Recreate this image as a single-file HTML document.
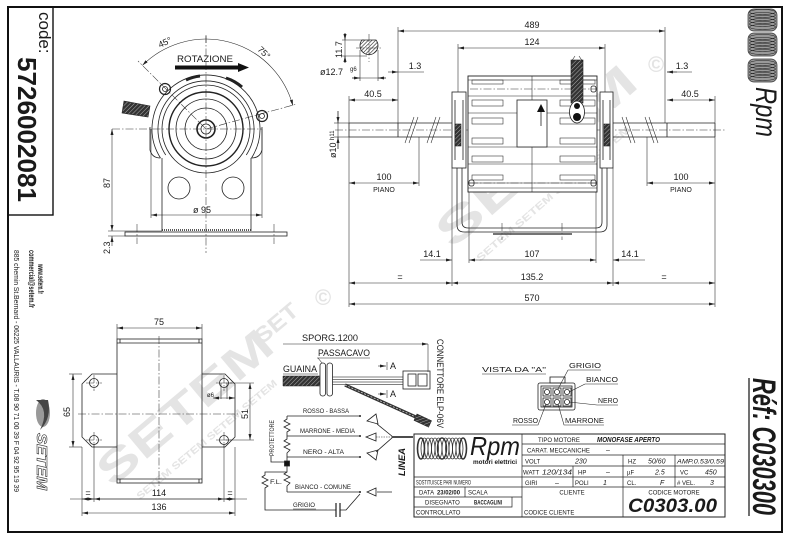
<!DOCTYPE html>
<html><head><meta charset="utf-8">
<style>
html,body{margin:0;padding:0;background:#fff}
svg{display:block}
.l{stroke:#222;stroke-width:.8;fill:none}
.t{stroke:#222;stroke-width:.55;fill:none}
.k{stroke:#1a1a1a;stroke-width:1.4;fill:none}
.c{stroke:#333;stroke-width:.55;fill:none;stroke-dasharray:8 2 1.5 2}
text{font-family:"Liberation Sans",Arial,sans-serif;fill:#1a1a1a}
.wm{fill:#e4e4e4;font-weight:bold}
.d{font-size:9px}
.s{font-size:6px}
.w{font-size:7.5px}
</style></head><body>
<svg xmlns="http://www.w3.org/2000/svg" width="790" height="541" viewBox="0 0 790 541">
<defs>
<marker id="a" viewBox="0 0 8 4" refX="8" refY="2" markerWidth="6" markerHeight="3" markerUnits="userSpaceOnUse" orient="auto-start-reverse"><path d="M0,0L8,2L0,4z" fill="#222"/></marker>
<pattern id="hp" width="2.6" height="2.6" patternUnits="userSpaceOnUse" patternTransform="rotate(45)"><rect width="2.6" height="2.6" fill="#fff"/><line x1="0" y1="0" x2="0" y2="2.6" stroke="#222" stroke-width="1.2"/></pattern>
<pattern id="hd" width="3" height="3" patternUnits="userSpaceOnUse" patternTransform="rotate(45)"><rect width="3" height="3" fill="#333"/><line x1="0" y1="0" x2="0" y2="3" stroke="#bbb" stroke-width=".9"/></pattern>
</defs>
<rect width="790" height="541" fill="#fff"/>

<!-- watermarks -->
<text class="wm" transform="translate(452,250) rotate(-41)" style="font-size:46px" textLength="250" lengthAdjust="spacingAndGlyphs">SETEM</text>
<text class="wm" transform="translate(480,262) rotate(-41)" style="font-size:10px" textLength="200" lengthAdjust="spacingAndGlyphs">SETEM SETEM SETEM SETEM</text>
<text class="wm" x="648" y="72" style="font-size:22px">©</text>
<text class="wm" transform="translate(112,488) rotate(-40)" style="font-size:44px" textLength="215" lengthAdjust="spacingAndGlyphs">SETEM</text>
<text class="wm" transform="translate(140,500) rotate(-40)" style="font-size:10px" textLength="180" lengthAdjust="spacingAndGlyphs">SETEM SETEM SETEM SETEM</text>
<text class="wm" x="315" y="305" style="font-size:22px">©</text>
<text class="wm" transform="translate(262,345) rotate(-40)" style="font-size:22px" textLength="50" lengthAdjust="spacingAndGlyphs">SET</text>

<!-- frame -->
<rect x="8" y="7" width="774" height="525" fill="none" stroke="#111" stroke-width="2"/>
<rect x="8" y="7" width="45" height="208" fill="none" stroke="#111" stroke-width="1.4"/>

<!-- left strip -->
<text transform="translate(39,12) rotate(90)" font-size="17">code:</text>
<text transform="translate(18,57) rotate(90)" font-size="26" font-weight="bold" textLength="145" lengthAdjust="spacingAndGlyphs">5726002081</text>
<text transform="translate(38,264) rotate(90)" font-size="8" font-weight="bold" textLength="30" lengthAdjust="spacingAndGlyphs">www.setem.fr</text>
<text transform="translate(29,250) rotate(90)" font-size="8" font-weight="bold" textLength="58" lengthAdjust="spacingAndGlyphs">commercial@setem.fr</text>
<text transform="translate(14,250) rotate(90)" font-size="7" textLength="242" lengthAdjust="spacingAndGlyphs">885 chemin St.Bernard - 06225 VALLAURIS - T.08 90 71 00 39 F 04 92 95 19 39</text>
<ellipse cx="43" cy="413" rx="7" ry="14" fill="#999"/>
<path d="M36,400 Q50,410 40,430 Q52,418 48,400z" fill="#444"/>
<text transform="translate(37,433) rotate(90)" style="fill:none;stroke:#333;stroke-width:.6;font-size:15px;font-weight:bold;font-style:italic" textLength="57" lengthAdjust="spacingAndGlyphs">SETEM</text>

<!-- right strip logo -->
<g stroke="#333" stroke-width=".7" fill="#999">
<rect x="748" y="9" width="29" height="22" rx="6"/>
<rect x="748" y="33" width="29" height="23" rx="6"/>
<rect x="748" y="59" width="29" height="23" rx="6"/>
</g>
<g stroke="#222" stroke-width=".6" fill="none">
<ellipse cx="762.5" cy="12" rx="13" ry="2.5"/><ellipse cx="762.5" cy="15" rx="13" ry="2.5"/><ellipse cx="762.5" cy="18" rx="13" ry="2.5"/><ellipse cx="762.5" cy="21" rx="13" ry="2.5"/><ellipse cx="762.5" cy="24" rx="13" ry="2.5"/><ellipse cx="762.5" cy="27" rx="13" ry="2.5"/>
<ellipse cx="762.5" cy="37" rx="13" ry="2.5"/><ellipse cx="762.5" cy="40" rx="13" ry="2.5"/><ellipse cx="762.5" cy="43" rx="13" ry="2.5"/><ellipse cx="762.5" cy="46" rx="13" ry="2.5"/><ellipse cx="762.5" cy="49" rx="13" ry="2.5"/><ellipse cx="762.5" cy="52" rx="13" ry="2.5"/>
<ellipse cx="762.5" cy="63" rx="13" ry="2.5"/><ellipse cx="762.5" cy="66" rx="13" ry="2.5"/><ellipse cx="762.5" cy="69" rx="13" ry="2.5"/><ellipse cx="762.5" cy="72" rx="13" ry="2.5"/><ellipse cx="762.5" cy="75" rx="13" ry="2.5"/><ellipse cx="762.5" cy="78" rx="13" ry="2.5"/>
</g>
<text transform="translate(756,87) rotate(90)" font-family="Liberation Serif,serif" font-style="italic" font-size="30" textLength="50" lengthAdjust="spacingAndGlyphs">Rpm</text>
<text transform="translate(753,378) rotate(90)" font-size="32" font-weight="bold" font-style="italic" textLength="137" lengthAdjust="spacingAndGlyphs">Réf: C030300</text>
<line x1="749" y1="378" x2="749" y2="516" stroke="#111" stroke-width="1.2"/>

<!-- ===== front view (top-left) ===== -->
<g class="c">
<line x1="206" y1="35" x2="206" y2="253"/>
<line x1="112" y1="129" x2="262" y2="129"/>
<line x1="206" y1="129" x2="138" y2="61"/>
<line x1="206" y1="129" x2="297" y2="104"/>
<line x1="137" y1="224" x2="137" y2="244"/>
<line x1="274" y1="224" x2="274" y2="244"/>
</g>
<g class="l">
<path d="M160.5,158 A54,54 0 1 1 251.5,158"/>
<path d="M165.7,155 A48,48 0 1 1 246.3,155"/>
<circle cx="206" cy="129" r="44"/>
<circle cx="206" cy="129" r="37" stroke-width="1.4"/>
<circle cx="206" cy="129" r="30"/>
<circle cx="206" cy="129" r="21"/>
<circle cx="206" cy="129" r="9" stroke-width="1.6"/>
<circle cx="206" cy="129" r="5"/>
<path d="M150,127 V150 Q152,158 160.5,158 M262,127 V150 Q260,158 251.5,158"/>
<path d="M162,158 V231 M251,158 V231"/>
<circle cx="179" cy="188" r="11"/>
<circle cx="233" cy="188" r="11"/>
<rect x="125" y="232" width="162" height="4"/>
<circle cx="165" cy="89" r="5.5" stroke-width="1.2"/><circle cx="165" cy="89" r="2.5"/>
<circle cx="262" cy="116" r="5.5" stroke-width="1.2"/><circle cx="262" cy="116" r="2.5"/>
</g>
<path d="M186,80 A44,44 0 0 1 200,76" stroke="#222" stroke-width="3" fill="none"/>
<path d="M226,78 A44,44 0 0 1 242,87" stroke="#222" stroke-width="3" fill="none"/>
<line x1="162" y1="230" x2="251" y2="230" stroke="#222" stroke-width="1.5" stroke-dasharray="1 1"/>
<polygon points="124,101 150,106 148,117 122,113" fill="url(#hd)" stroke="#222" stroke-width=".6"/>
<path class="t" d="M142.4,65.4 A90,90 0 0 1 292.9,105.7" marker-start="url(#a)" marker-end="url(#a)"/>
<line class="t" x1="206" y1="36" x2="206" y2="43"/>
<text transform="translate(160,48) rotate(-25)" class="d">45°</text>
<text transform="translate(257,50) rotate(45)" class="d">75°</text>
<text x="177" y="62" class="d" textLength="56" lengthAdjust="spacingAndGlyphs">ROTAZIONE</text>
<polygon points="175,65.5 238,65.5 238,63 249,67.5 238,72 238,69.5 175,69.5" fill="#111"/>
<g class="t" marker-start="url(#a)" marker-end="url(#a)">
<line x1="151" y1="215" x2="262" y2="215"/>
<line x1="112" y1="129" x2="112" y2="231"/>
</g>
<line class="t" x1="112" y1="246" x2="112" y2="236" marker-end="url(#a)"/>
<g class="t"><line x1="151" y1="129" x2="151" y2="218"/><line x1="262" y1="129" x2="262" y2="218"/><line x1="108" y1="231" x2="162" y2="231"/><line x1="108" y1="236" x2="125" y2="236"/></g>
<text x="193" y="213" class="d">ø 95</text>
<text transform="translate(110,188) rotate(-90)" class="d">87</text>
<text transform="translate(110,254) rotate(-90)" class="d">2.3</text>

<!-- ===== side view (top-right) ===== -->
<line class="c" x1="335" y1="130" x2="725" y2="130"/>
<g class="l">
<path d="M349,123 H452 M349,137 H452 M349,123 V137 M398,123 V137"/>
<path d="M613,123 H715 M613,137 H715 M715,123 V137 M667,123 V137"/>
</g>
<g class="t">
<path d="M405,143 L414,117 M409,143 L418,117 M427,143 L436,117 M431,143 L440,117"/>
<path d="M622,117 L631,143 M626,117 L635,143 M645,117 L654,143 M649,117 L658,143"/>
</g>
<!-- U bracket -->
<g class="l">
<path d="M457,168 V225 Q457,232 464,232 H600 Q607,232 607,225 V168"/>
<path d="M462,168 V222 Q462,228 468,228 H596 Q602,228 602,222 V168"/>
<line x1="493" y1="234" x2="572" y2="234" stroke-width="1.2"/>
</g>
<g class="c"><line x1="502" y1="223" x2="502" y2="240"/><line x1="562" y1="223" x2="562" y2="240"/></g>
<!-- stator -->
<rect x="468" y="76" width="129" height="116" fill="#fff" stroke="#222" stroke-width=".9"/>
<g class="t">
<path d="M468,80 H597 M468,96 H597 M468,113 H597 M468,147 H597 M468,164 H597 M468,183 H597 M468,188 H597"/>
<rect x="472" y="80" width="31" height="4"/><rect x="560" y="80" width="35" height="4"/>
<rect x="472" y="100" width="31" height="6"/><rect x="560" y="100" width="35" height="6"/>
<rect x="472" y="118" width="31" height="6"/><rect x="560" y="118" width="35" height="6"/>
<rect x="472" y="138" width="31" height="6"/><rect x="560" y="138" width="35" height="6"/>
<rect x="472" y="156" width="31" height="6"/><rect x="560" y="156" width="35" height="6"/>
<rect x="472" y="175" width="31" height="5"/><rect x="560" y="175" width="35" height="5"/>
<line x1="532" y1="76" x2="532" y2="192"/>
</g>
<g class="c"><line x1="470" y1="89" x2="596" y2="89"/><line x1="470" y1="183" x2="596" y2="183"/></g>
<g class="l"><rect x="591" y="86" width="5" height="6" rx="2"/><rect x="469" y="180" width="5" height="6" rx="2"/><rect x="591" y="180" width="5" height="6" rx="2"/></g>
<rect x="517" y="100" width="30" height="47" fill="#fff" stroke="#222" stroke-width=".8"/>
<line x1="541" y1="126" x2="541" y2="110" stroke="#222" stroke-width=".8"/>
<polygon points="537,112 541,104 545,112" fill="#111"/>
<!-- plates -->
<g class="l">
<rect x="452" y="92" width="14" height="76" fill="#fff"/>
<rect x="600" y="92" width="13" height="76" fill="#fff"/>
<path d="M455,100 V160 M463,100 V160 M603,100 V160 M610,100 V160"/>
</g>
<rect x="455" y="124" width="6" height="22" fill="url(#hd)" stroke="#222" stroke-width=".6"/>
<rect x="604" y="124" width="6" height="22" fill="url(#hd)" stroke="#222" stroke-width=".6"/>
<!-- cable -->
<rect x="571" y="60" width="12" height="43" fill="url(#hd)" stroke="#222" stroke-width=".6"/>
<path d="M571,62 L575,56 M583,62 L579,56" class="t"/>
<ellipse cx="577" cy="112" rx="7.5" ry="11" fill="#fff" stroke="#222" stroke-width=".8"/>
<circle cx="577" cy="106" r="3" fill="#111"/><circle cx="577" cy="117" r="4" fill="#111"/>
<!-- section detail -->
<path d="M362,40 H376 A9,9 0 1 1 362,40z" fill="url(#hp)" stroke="#222" stroke-width=".8"/>
<g class="c"><line x1="369" y1="34" x2="369" y2="62"/><line x1="356" y1="48" x2="383" y2="48"/></g>
<g class="t">
<line x1="342" y1="40" x2="364" y2="40"/><line x1="342" y1="56" x2="367" y2="56"/>
<line x1="345" y1="33" x2="345" y2="63"/>
<line x1="360" y1="50" x2="360" y2="81"/><line x1="378" y1="50" x2="378" y2="81"/>
<line x1="352" y1="78" x2="386" y2="78"/>
</g>
<g class="t" marker-end="url(#a)">
<line x1="345" y1="33" x2="345" y2="40"/><line x1="345" y1="63" x2="345" y2="56"/>
<line x1="352" y1="78" x2="360" y2="78"/><line x1="386" y1="78" x2="378" y2="78"/>
<line x1="388" y1="72" x2="398" y2="72"/><line x1="677" y1="72" x2="667" y2="72"/>
<line x1="338" y1="111" x2="338" y2="123"/><line x1="338" y1="149" x2="338" y2="137"/>
<line x1="420" y1="260" x2="452" y2="260"/><line x1="645" y1="260" x2="613" y2="260"/>
</g>
<text transform="translate(342,58) rotate(-90)" class="d">11.7</text>
<text x="320" y="75" class="d">ø12.7</text><text x="350" y="71" font-size="6">g6</text>
<!-- dims top-right -->
<g class="t" marker-start="url(#a)" marker-end="url(#a)">
<line x1="398" y1="31" x2="665" y2="31"/>
<line x1="458" y1="48" x2="605" y2="48"/>
<line x1="349" y1="100" x2="398" y2="100"/>
<line x1="667" y1="100" x2="715" y2="100"/>
<line x1="349" y1="183" x2="419" y2="183"/>
<line x1="647" y1="183" x2="715" y2="183"/>
<line x1="469" y1="260" x2="596" y2="260"/>
<line x1="349" y1="283" x2="452" y2="283"/>
<line x1="452" y1="283" x2="613" y2="283"/>
<line x1="613" y1="283" x2="715" y2="283"/>
<line x1="349" y1="304" x2="715" y2="304"/>
</g>
<g class="t">
<line x1="398" y1="27" x2="398" y2="123"/><line x1="665" y1="27" x2="665" y2="123"/>
<line x1="458" y1="44" x2="458" y2="92"/><line x1="605" y1="44" x2="605" y2="92"/>
<line x1="398" y1="72" x2="424" y2="72"/><line x1="667" y1="72" x2="692" y2="72"/>
<line x1="349" y1="96" x2="349" y2="123"/><line x1="715" y1="96" x2="715" y2="123"/>
<line x1="349" y1="137" x2="349" y2="307"/><line x1="715" y1="137" x2="715" y2="307"/>
<line x1="419" y1="137" x2="419" y2="186"/><line x1="647" y1="137" x2="647" y2="186"/>
<line x1="469" y1="192" x2="469" y2="263"/><line x1="596" y1="192" x2="596" y2="263"/>
<line x1="452" y1="168" x2="452" y2="286"/><line x1="613" y1="168" x2="613" y2="286"/>
<line x1="338" y1="111" x2="338" y2="149"/>
<line x1="334" y1="123" x2="349" y2="123"/><line x1="334" y1="137" x2="349" y2="137"/>
</g>
<g class="d" text-anchor="middle">
<text x="532" y="28">489</text>
<text x="532" y="45">124</text>
<text x="373" y="97">40.5</text>
<text x="690" y="97">40.5</text>
<text x="384" y="180">100</text>
<text x="384" y="192" font-size="7">PIANO</text>
<text x="681" y="180">100</text>
<text x="681" y="192" font-size="7">PIANO</text>
<text x="532" y="257">107</text>
<text x="432" y="257">14.1</text>
<text x="630" y="257">14.1</text>
<text x="400" y="280">=</text>
<text x="532" y="280">135.2</text>
<text x="664" y="280">=</text>
<text x="532" y="301">570</text>
<text x="415" y="69">1.3</text>
<text x="682" y="69">1.3</text>
</g>
<text transform="translate(336,158) rotate(-90)" class="d">ø10 <tspan font-size="6" dy="-2">h11</tspan></text>

<!-- ===== bottom-left view ===== -->
<g class="l">
<path d="M117,374 H92 L82,384 V437 L92,447 H117"/>
<path d="M202,374 H225 L235,384 V437 L225,447 H202"/>
<rect x="117" y="339" width="85" height="144" fill="none"/>
<path d="M117,343 H202 M117,479 H202 M120,339 V343 M199,339 V343 M120,479 V483 M199,479 V483"/>
<circle cx="94" cy="383" r="4.5"/><circle cx="94" cy="440" r="4.5"/>
<circle cx="224" cy="383" r="4.5"/><circle cx="224" cy="440" r="4.5"/>
</g>
<g class="c">
<line x1="159" y1="336" x2="159" y2="486"/>
<line x1="78" y1="414" x2="240" y2="414"/>
<path d="M86,383 H102 M94,375 V391 M86,440 H102 M94,432 V448 M216,383 H232 M224,375 V391 M216,440 H232 M224,432 V448"/>
</g>
<g class="t" marker-start="url(#a)" marker-end="url(#a)">
<line x1="117" y1="328" x2="202" y2="328"/>
<line x1="73" y1="374" x2="73" y2="447"/>
<line x1="250" y1="383" x2="250" y2="440"/>
<line x1="82" y1="499" x2="94" y2="499"/>
<line x1="94" y1="499" x2="224" y2="499"/>
<line x1="224" y1="499" x2="235" y2="499"/>
<line x1="82" y1="513" x2="235" y2="513"/>
<line x1="213" y1="398" x2="235" y2="398"/>
</g>
<g class="t">
<line x1="117" y1="324" x2="117" y2="339"/><line x1="202" y1="324" x2="202" y2="339"/>
<line x1="69" y1="374" x2="82" y2="374"/><line x1="69" y1="447" x2="82" y2="447"/>
<line x1="224" y1="383" x2="254" y2="383"/><line x1="224" y1="440" x2="254" y2="440"/>
<line x1="70" y1="499" x2="247" y2="499"/>
<line x1="82" y1="447" x2="82" y2="516"/><line x1="235" y1="447" x2="235" y2="516"/>
<line x1="94" y1="444" x2="94" y2="502"/><line x1="224" y1="444" x2="224" y2="502"/>
<line x1="221" y1="383" x2="221" y2="399"/><line x1="227" y1="383" x2="227" y2="399"/>
</g>
<g class="d" text-anchor="middle">
<text x="159" y="325">75</text>
<text x="159" y="496">114</text>
<text x="88" y="496">=</text>
<text x="230" y="496">=</text>
<text x="159" y="510">136</text>
</g>
<text transform="translate(70,417) rotate(-90)" class="d">65</text>
<text transform="translate(248,419) rotate(-90)" class="d">51</text>
<text x="207" y="397" font-size="6">ø6</text>

<!-- ===== wiring ===== -->
<text x="302" y="341" class="d" textLength="56" lengthAdjust="spacingAndGlyphs">SPORG.1200</text>
<line class="t" x1="283" y1="344" x2="428" y2="344" marker-end="url(#a)"/>
<line class="t" x1="428" y1="344" x2="428" y2="372"/>
<text x="318" y="356" class="d" textLength="52" lengthAdjust="spacingAndGlyphs">PASSACAVO</text>
<line class="t" x1="317" y1="358" x2="370" y2="358"/>
<line class="t" x1="318" y1="358" x2="322" y2="363"/>
<text x="283" y="372" class="d" textLength="34" lengthAdjust="spacingAndGlyphs">GUAINA</text>
<line class="t" x1="283" y1="374" x2="318" y2="374"/>
<polygon points="283,376 322,376 322,386 283,386" fill="url(#hd)" stroke="#222" stroke-width=".5"/>
<g stroke="#555" stroke-width=".7"><line x1="332" y1="377" x2="403" y2="377"/><line x1="332" y1="379.5" x2="403" y2="379.5"/><line x1="332" y1="382" x2="403" y2="382"/><line x1="332" y1="384.5" x2="403" y2="384.5"/></g>
<g class="l"><rect x="320" y="363" width="5.5" height="33" rx="2.5" fill="#fff"/><rect x="327" y="363" width="5.5" height="33" rx="2.5" fill="#fff"/></g>
<g class="l"><rect x="403" y="371" width="27" height="18"/><rect x="408" y="374" width="8" height="12"/><rect x="418" y="374" width="9" height="12"/></g>
<line x1="345" y1="385" x2="418" y2="418" stroke="#333" stroke-width="3.2"/>
<line x1="345" y1="385" x2="418" y2="418" stroke="#ccc" stroke-width=".8" stroke-dasharray="2 1.5"/>
<rect x="0" y="0" width="16" height="7" fill="url(#hd)" stroke="#222" stroke-width=".6" transform="translate(417,414) rotate(25)"/>
<g class="t">
<line x1="378" y1="366" x2="386" y2="366" marker-end="url(#a)"/><line x1="387" y1="362" x2="387" y2="370"/>
<line x1="378" y1="394" x2="386" y2="394" marker-end="url(#a)"/><line x1="387" y1="390" x2="387" y2="398"/>
</g>
<text x="390" y="369" class="d">A</text><text x="390" y="397" class="d">A</text>
<text transform="translate(437,339) rotate(90)" class="d" textLength="89" lengthAdjust="spacingAndGlyphs">CONNETTORE ELP-06V</text>
<!-- schematic -->
<g class="l">
<path d="M287,416 V419 L284,421 L290,424 L284,427 L290,430 L287,432 V436 V439 L284,441 L290,444 L284,447 L290,450 L287,453 V457 V461"/>
<rect x="284.5" y="461" width="5" height="5" fill="#111"/>
<path d="M287,466 V472 L284,474 L290,477 L284,480 L290,483 L287,486 V492"/>
<path d="M287,472 H265 V475 L262,477 L268,480 L262,483 L268,486 L265,488 V510 H336"/>
<path d="M336,503 V517 M340,503 V517" stroke-width="1.2"/>
<path d="M340,510 H346 L360,494"/>
<path d="M287,416 H360 M287,436 H360 M287,457 H360 M287,492 H360"/>
<path d="M271,456 V462 H285"/>
</g>
<g fill="#222"><circle cx="360" cy="416" r="1"/><circle cx="360" cy="436" r="1"/><circle cx="360" cy="457" r="1"/><circle cx="360" cy="492" r="1"/></g>
<g font-size="6.5">
<text x="303" y="413" textLength="46" lengthAdjust="spacingAndGlyphs">ROSSO - BASSA</text>
<text x="300" y="433" textLength="55" lengthAdjust="spacingAndGlyphs">MARRONE - MEDIA</text>
<text x="303" y="454" textLength="41" lengthAdjust="spacingAndGlyphs">NERO - ALTA</text>
<text x="295" y="489" textLength="56" lengthAdjust="spacingAndGlyphs">BIANCO - COMUNE</text>
<text x="293" y="507" textLength="22" lengthAdjust="spacingAndGlyphs">GRIGIO</text>
<text x="270" y="484" textLength="12" lengthAdjust="spacingAndGlyphs">F.L.</text>
</g>
<line class="t" x1="293" y1="509" x2="316" y2="509"/>
<text transform="translate(274,456) rotate(-90)" font-size="6.5" textLength="36" lengthAdjust="spacingAndGlyphs">PROTETTORE</text>
<g class="l">
<path d="M376,414 L367,421 L378,424z M376,433 L366,437 L376,441z M378,450 L367,453 L376,460z M376,488 L367,492 L376,496z" fill="#fff"/>
<path d="M377,424 L393,437 L376,452 M393,437 H413 M377,492 H392"/>
</g>
<line x1="393" y1="437" x2="413" y2="437" stroke="#111" stroke-width="1.6"/>
<line x1="376" y1="437" x2="393" y2="437" class="t" stroke-dasharray="1.5 1"/>
<text transform="translate(405,476) rotate(-90)" font-size="9" font-weight="bold" font-style="italic" textLength="28" lengthAdjust="spacingAndGlyphs">LINEA</text>

<!-- ===== vista da A ===== -->
<text x="482" y="372" class="w" textLength="64" lengthAdjust="spacingAndGlyphs">VISTA DA "A"</text>
<line class="t" x1="482" y1="374" x2="546" y2="374"/>
<g class="l">
<rect x="550" y="377" width="15" height="6"/>
<rect x="538" y="383" width="37" height="27" rx="2"/>
<rect x="541" y="386" width="31" height="21"/>
<rect x="543" y="388" width="8" height="8"/><rect x="553" y="388" width="8" height="8"/><rect x="563" y="388" width="8" height="8"/>
<rect x="543" y="398" width="8" height="8"/><rect x="553" y="398" width="8" height="8"/><rect x="563" y="398" width="8" height="8"/>
<circle cx="547" cy="392" r="2.6"/><circle cx="557" cy="392" r="2.6"/><circle cx="567" cy="392" r="2.6"/>
<circle cx="547" cy="402" r="2.6"/><circle cx="557" cy="402" r="2.6"/><circle cx="567" cy="402" r="2.6"/>
</g>
<g class="t">
<path d="M568,370 H601 M568,370 L558,389"/>
<path d="M585,384 H618 M585,384 L569,392"/>
<path d="M597,405 H618 M597,405 L569,402"/>
<path d="M512,425 H538 L546,404"/>
<path d="M604,425 H564 L558,404"/>
</g>
<g class="w">
<text x="569" y="368" textLength="32" lengthAdjust="spacingAndGlyphs">GRIGIO</text>
<text x="586" y="382" textLength="32" lengthAdjust="spacingAndGlyphs">BIANCO</text>
<text x="598" y="403" textLength="20" lengthAdjust="spacingAndGlyphs">NERO</text>
<text x="513" y="423" textLength="25" lengthAdjust="spacingAndGlyphs">ROSSO</text>
<text x="565" y="423" textLength="39" lengthAdjust="spacingAndGlyphs">MARRONE</text>
</g>

<!-- ===== title block ===== -->
<g fill="none" stroke="#222" stroke-width=".7">
<rect x="414" y="434" width="311" height="83" stroke-width="1"/>
<line x1="522" y1="434" x2="522" y2="517"/>
<path d="M414,477 H725 M414,487 H725 M414,497 H522 M414,507 H512 V497"/>
<path d="M522,444 H725 M522,455 H725 M522,466 H725"/>
<path d="M623,455 V517 M675,455 V487 M573,466 V487 M465,487 V497"/>
</g>
<g stroke="#333" stroke-width=".8" fill="none">
<ellipse cx="421" cy="448.5" rx="3.5" ry="10.5" stroke-width="1.6"/>
<ellipse cx="424.5" cy="448.5" rx="3.5" ry="10.5"/><ellipse cx="428" cy="448.5" rx="3.5" ry="10.5"/>
<ellipse cx="431.5" cy="448.5" rx="3.5" ry="10.5"/><ellipse cx="435" cy="448.5" rx="3.5" ry="10.5"/>
<ellipse cx="438.5" cy="448.5" rx="3.5" ry="10.5"/><ellipse cx="442" cy="448.5" rx="4.5" ry="10.5" stroke-width="1.4"/>
<ellipse cx="445.5" cy="448.5" rx="3.5" ry="10.5"/><ellipse cx="449" cy="448.5" rx="3.5" ry="10.5"/>
<ellipse cx="452.5" cy="448.5" rx="3.5" ry="10.5"/><ellipse cx="456" cy="448.5" rx="3.5" ry="10.5"/>
<ellipse cx="459.5" cy="448.5" rx="3.5" ry="10.5"/><ellipse cx="463" cy="448.5" rx="3.5" ry="10.5" stroke-width="1.6"/>
</g>
<text x="470" y="455" font-family="Liberation Serif,serif" font-style="italic" font-size="26" textLength="50" lengthAdjust="spacingAndGlyphs">Rpm</text>
<text x="473" y="464" font-size="6" font-weight="bold" textLength="44" lengthAdjust="spacingAndGlyphs">motori elettrici</text>
<g class="s">
<text x="416" y="484.5" textLength="55" lengthAdjust="spacingAndGlyphs">SOSTITUISCE PARI NUMERO</text>
<text x="419" y="494.5">DATA</text>
<text x="437" y="494.5" font-weight="bold" textLength="23" lengthAdjust="spacingAndGlyphs">23/02/00</text>
<text x="468" y="494.5">SCALA</text>
<text x="425" y="504.5">DISEGNATO</text>
<text x="474" y="504.5" font-weight="bold" textLength="28" lengthAdjust="spacingAndGlyphs">BACCAGLINI</text>
<text x="416" y="514.5">CONTROLLATO</text>
<text x="538" y="442">TIPO MOTORE</text>
<text x="527" y="452.5">CARAT. MECCANICHE</text>
<text x="525" y="463.5">VOLT</text>
<text x="628" y="463.5">HZ</text>
<text x="523" y="474.5">WATT</text>
<text x="578" y="474.5">HP</text>
<text x="627" y="474.5">µF</text>
<text x="680" y="474.5">VC</text>
<text x="525" y="485">GIRI</text>
<text x="575" y="485">POLI</text>
<text x="627" y="485">CL.</text>
<text x="677" y="485"># VEL.</text>
<text x="572" y="494.5" text-anchor="middle">CLIENTE</text>
<text x="524" y="514.5">CODICE CLIENTE</text>
<text x="674" y="494.5" text-anchor="middle">CODICE MOTORE</text>
</g>
<g font-size="7" font-style="italic">
<text x="597" y="442" font-weight="bold" textLength="63" lengthAdjust="spacingAndGlyphs">MONOFASE APERTO</text>
<text x="606" y="452.5">–</text>
<text x="575" y="463.5">230</text>
<text x="648" y="463.5">50/60</text>
<text x="677" y="463.5" font-size="6.5" textLength="47" lengthAdjust="spacingAndGlyphs">AMP.0.53/0.59</text>
<text x="542" y="474.5" textLength="30" lengthAdjust="spacingAndGlyphs">120/134</text>
<text x="606" y="474.5">–</text>
<text x="655" y="474.5">2.5</text>
<text x="705" y="474.5">450</text>
<text x="555" y="485">–</text>
<text x="603" y="485">1</text>
<text x="660" y="485">F</text>
<text x="710" y="485">3</text>
</g>
<text x="628" y="512" font-size="19.5" font-weight="bold" font-style="italic" textLength="89" lengthAdjust="spacingAndGlyphs">C0303.00</text>
</svg>
</body></html>
